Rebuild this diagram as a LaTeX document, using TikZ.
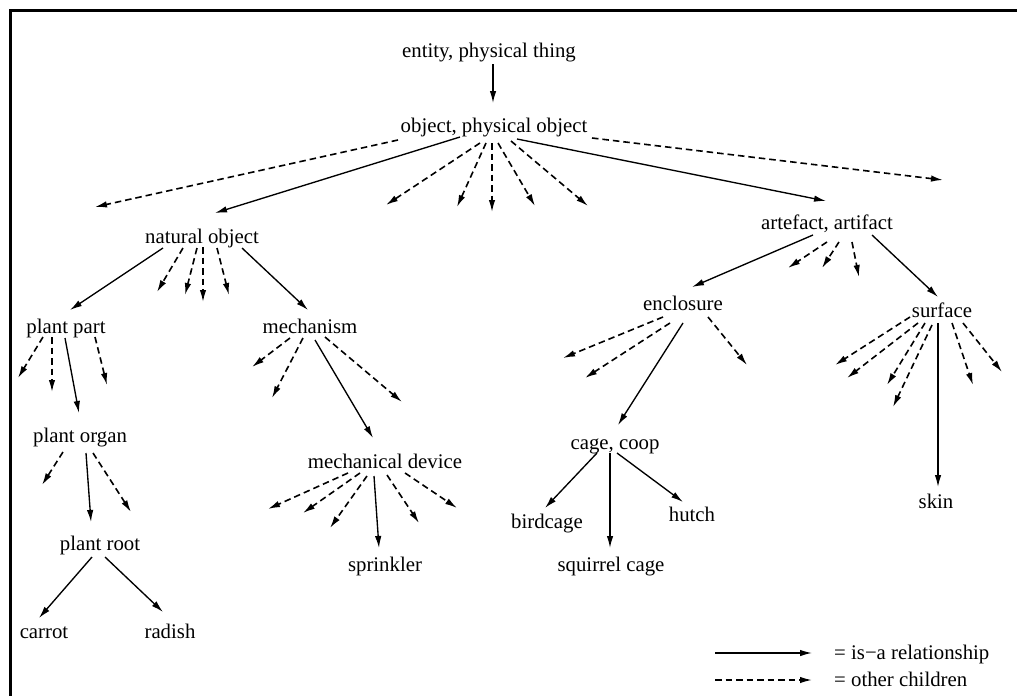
\documentclass[tikz,border=0pt]{standalone}
\usepackage{fontspec}
\setmainfont{Liberation Serif}
\usetikzlibrary{arrows.meta,calc}
\begin{document}
\begin{tikzpicture}[x=1pt,y=-1pt,
  lbl/.style={anchor=base,inner sep=0pt,font=\fontsize{20.8}{25}\selectfont},
  tipk/.style={-{Latex[length=12pt,width=6.5pt]}},
  isa/.style={tipk,line width=1.35pt},
  oth/.style={tipk,line width=1.6pt,dash pattern=on 6.5pt off 4pt},
  frame/.style={line width=3pt}]
\useasboundingbox (0,0) rectangle (1017,696);
\draw[frame] (1017,10.5) -- (10.5,10.5) -- (10.5,696);

% nodes
\node[lbl] (ent) at (489,57) {entity, physical thing};
\node[lbl] (obj) at (494,132) {object, physical object};
\node[lbl] (nat) at (202,243) {natural object};
\node[lbl] (art) at (827,229) {artefact, artifact};
\node[lbl] (pp) at (66,333) {plant part};
\node[lbl] (mech) at (310,333) {mechanism};
\node[lbl] (enc) at (683,310) {enclosure};
\node[lbl] (surf) at (942,317) {surface};
\node[lbl] (po) at (80,442) {plant organ};
\node[lbl] (md) at (385,468) {mechanical device};
\node[lbl] (cage) at (615,449) {cage, coop};
\node[lbl] (pr) at (100,550) {plant root};
\node[lbl] (carrot) at (44,638) {carrot};
\node[lbl] (radish) at (170,638) {radish};
\node[lbl] (spr) at (385,571) {sprinkler};
\node[lbl] (bird) at (547,528) {birdcage};
\node[lbl] (hutch) at (692,521) {hutch};
\node[lbl] (squ) at (611,571) {squirrel cage};
\node[lbl] (skin) at (936,508) {skin};

% free ends of "other children" arrows
\coordinate (o1) at (95,207);
\coordinate (o2) at (386,205);
\coordinate (o3) at (457,207);
\coordinate (o4) at (492,212);
\coordinate (o5) at (535,206);
\coordinate (o6) at (588,206);
\coordinate (o7) at (943,180);
\coordinate (n1) at (157,292);
\coordinate (n2) at (185,295);
\coordinate (n3) at (203,302);
\coordinate (n4) at (229,295);
\coordinate (p1) at (18,378);
\coordinate (p2) at (52,392);
\coordinate (p3) at (107,385);
\coordinate (m1) at (252,367);
\coordinate (m2) at (272,398);
\coordinate (m3) at (402,402);
\coordinate (g1) at (42,485);
\coordinate (g2) at (131,512);
\coordinate (d1) at (268,509);
\coordinate (d2) at (303,513);
\coordinate (d3) at (330,528);
\coordinate (d4) at (419,523);
\coordinate (d5) at (457,508);
\coordinate (a1) at (788,268);
\coordinate (a2) at (822,268);
\coordinate (a3) at (859,277);
\coordinate (e1) at (563,358);
\coordinate (e2) at (585,378);
\coordinate (e3) at (747,365);
\coordinate (s1) at (835,365);
\coordinate (s2) at (847,378);
\coordinate (s3) at (887,385);
\coordinate (s4) at (893,407);
\coordinate (s5) at (973,385);
\coordinate (s6) at (1002,372);

% entity
\draw[isa] ($(ent.base)+(4,7)$) -- ($(obj.base)+(-1,-29)$);
% object
\draw[oth] ($(obj.base)+(-96,8)$) -- (o1);
\draw[isa] ($(obj.base)+(-34,5)$) -- ($(nat.base)+(13,-30)$);
\draw[oth] ($(obj.base)+(-14,11)$) -- (o2);
\draw[oth] ($(obj.base)+(-8,11)$) -- (o3);
\draw[oth] ($(obj.base)+(-2,11)$) -- (o4);
\draw[oth] ($(obj.base)+(4,11)$) -- (o5);
\draw[oth] ($(obj.base)+(17,9)$) -- (o6);
\draw[isa] ($(obj.base)+(23,7)$) -- ($(art.base)+(-1,-28)$);
\draw[oth] ($(obj.base)+(98,6)$) -- (o7);
% natural object
\draw[isa] ($(nat.base)+(-39,5)$) -- ($(pp.base)+(4,-23)$);
\draw[oth] ($(nat.base)+(-19,5)$) -- (n1);
\draw[oth] ($(nat.base)+(-5,5)$) -- (n2);
\draw[oth] ($(nat.base)+(1,4)$) -- (n3);
\draw[oth] ($(nat.base)+(15,5)$) -- (n4);
\draw[isa] ($(nat.base)+(40,5)$) -- ($(mech.base)+(-2,-23)$);
% plant part
\draw[oth] ($(pp.base)+(-23,4)$) -- (p1);
\draw[oth] ($(pp.base)+(-14,4)$) -- (p2);
\draw[isa] ($(pp.base)+(-1,5)$) -- ($(po.base)+(-1,-29)$);
\draw[oth] ($(pp.base)+(29,4)$) -- (p3);
% mechanism
\draw[oth] ($(mech.base)+(-20,5)$) -- (m1);
\draw[oth] ($(mech.base)+(-7,5)$) -- (m2);
\draw[isa] ($(mech.base)+(5,7)$) -- ($(md.base)+(-12,-30)$);
\draw[oth] ($(mech.base)+(15,4)$) -- (m3);
% plant organ
\draw[oth] ($(po.base)+(-17,10)$) -- (g1);
\draw[isa] ($(po.base)+(6,11)$) -- ($(pr.base)+(-9,-28)$);
\draw[oth] ($(po.base)+(13,11)$) -- (g2);
% plant root
\draw[isa] ($(pr.base)+(-8,7)$) -- ($(carrot.base)+(-5,-20)$);
\draw[isa] ($(pr.base)+(5,7)$) -- ($(radish.base)+(-7,-26)$);
% mechanical device
\draw[oth] ($(md.base)+(-37,5)$) -- (d1);
\draw[oth] ($(md.base)+(-25,5)$) -- (d2);
\draw[oth] ($(md.base)+(-18,8)$) -- (d3);
\draw[isa] ($(md.base)+(-11,8)$) -- ($(spr.base)+(-6,-23)$);
\draw[oth] ($(md.base)+(2,7)$) -- (d4);
\draw[oth] ($(md.base)+(20,5)$) -- (d5);
% artefact
\draw[isa] ($(art.base)+(-14,6)$) -- ($(enc.base)+(9,-23)$);
\draw[oth] ($(art.base)+(0,13)$) -- (a1);
\draw[oth] ($(art.base)+(12,13)$) -- (a2);
\draw[oth] ($(art.base)+(25,13)$) -- (a3);
\draw[isa] ($(art.base)+(45,6)$) -- ($(surf.base)+(-4,-20)$);
% enclosure
\draw[oth] ($(enc.base)+(-20,7)$) -- (e1);
\draw[oth] ($(enc.base)+(-13,13)$) -- (e2);
\draw[isa] ($(enc.base)+(0,13)$) -- ($(cage.base)+(3,-24)$);
\draw[oth] ($(enc.base)+(25,7)$) -- (e3);
% surface
\draw[oth] ($(surf.base)+(-32,0)$) -- (s1);
\draw[oth] ($(surf.base)+(-24,6)$) -- (s2);
\draw[oth] ($(surf.base)+(-17,6)$) -- (s3);
\draw[oth] ($(surf.base)+(-10,8)$) -- (s4);
\draw[isa] ($(surf.base)+(-4,6)$) -- ($(skin.base)+(2,-21)$);
\draw[oth] ($(surf.base)+(10,6)$) -- (s5);
\draw[oth] ($(surf.base)+(21,6)$) -- (s6);
% cage
\draw[isa] ($(cage.base)+(-18,4)$) -- ($(bird.base)+(-2,-20)$);
\draw[isa] ($(cage.base)+(-5,4)$) -- ($(squ.base)+(-1,-23)$);
\draw[isa] ($(cage.base)+(2,4)$) -- ($(hutch.base)+(-9,-19)$);

% legend
\coordinate (la) at (715,653);
\coordinate (lb) at (812,653);
\coordinate (lc) at (715,680);
\coordinate (ld) at (812,680);
\draw[isa] (la) -- (lb);
\draw[oth] (lc) -- (ld);
\node[lbl,anchor=base west] (leg1) at (834,659) {= is−a relationship};
\node[lbl,anchor=base west] (leg2) at (834,686) {= other children};
\end{tikzpicture}
\end{document}
